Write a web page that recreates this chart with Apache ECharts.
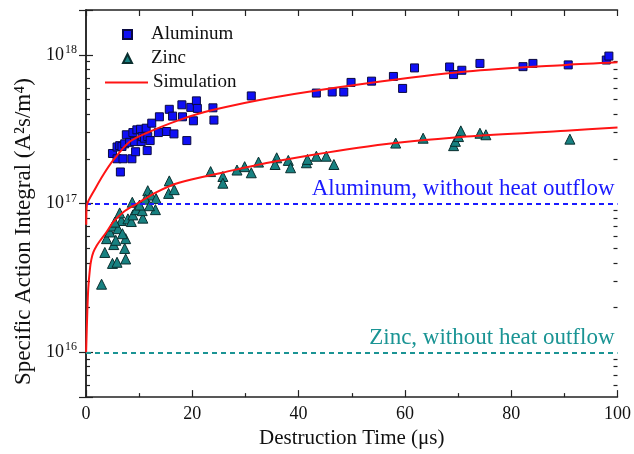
<!DOCTYPE html>
<html>
<head>
<meta charset="UTF-8">
<title>Specific Action Integral</title>
<script src="https://cdn.jsdelivr.net/npm/echarts@6/dist/echarts.min.js"></script>
<style>
  html, body { margin: 0; padding: 0; background: #fff; }
  #container { width: 634px; height: 454px; }
</style>
</head>
<body>
<div id="container"></div>
<script type="text/javascript">
// measured points (time in us, action integral in A^2 s / m^4)
var alTime = [4.98, 5.84, 6.34, 6.77, 7.28, 5.84, 6.96, 6.47, 8.64, 7.59, 8.21, 8.82, 9.14, 9.33, 9.57,
    10.26, 10.39, 10.58, 11.0, 11.32, 11.51, 11.62, 12.07, 12.37, 13.62, 13.81, 15.17, 15.67, 16.29, 16.55,
    18.04, 18.15, 18.97, 19.72, 20.21, 20.77, 20.95, 23.88, 24.07, 31.1, 43.34, 46.32, 48.5, 49.87, 53.73,
    57.84, 59.57, 61.81, 68.41, 69.16, 70.71, 74.12, 82.22, 84.09, 90.73, 97.89, 98.38];
var alValue = [2.17e17, 2.40e17, 2.45e17, 2.42e17, 2.52e17, 2.0e17, 2.0e17, 1.63e17, 2.0e17, 2.9e17, 2.58e17, 3.0e17, 2.61e17, 2.23e17, 3.13e17,
    3.16e17, 2.61e17, 2.82e17, 2.75e17, 3.21e17, 2.27e17, 2.82e17, 2.65e17, 3.47e17, 3.0e17, 3.83e17, 3.05e17, 4.3e17, 3.87e17, 2.94e17,
    4.61e17, 3.83e17, 2.65e17, 4.43e17, 3.6e17, 4.9e17, 4.36e17, 4.4e17, 3.64e17, 5.29e17, 5.53e17, 5.62e17, 5.62e17, 6.52e17, 6.65e17,
    7.15e17, 5.94e17, 8.16e17, 8.28e17, 7.36e17, 7.87e17, 8.75e17, 8.32e17, 8.75e17, 8.55e17, 9.22e17, 9.8e17];

var znTime = [2.93, 3.54, 4.98, 5.84, 7.46, 3.86, 5.22, 5.60, 7.28, 7.46, 4.48, 5.09, 6.66, 6.03, 6.85,
    6.34, 5.41, 7.89, 8.53, 8.82, 8.71, 9.46, 10.69, 10.58, 10.07, 11.62, 12.26, 11.19, 13.19, 13.06,
    11.94, 15.67, 15.54, 16.6, 23.45, 25.75, 25.75, 28.41, 29.85, 31.1, 32.46, 35.88, 35.58, 38.06, 38.49,
    41.47, 41.66, 43.34, 45.2, 46.64, 58.27, 63.43, 69.16, 69.5, 70.09, 70.52, 74.12, 75.24, 91.04];
var znValue = [2.87e16, 4.69e16, 3.96e16, 4.03e16, 4.24e16, 5.81e16, 5.30e16, 5.66e16, 4.99e16, 5.81e16, 6.44e16, 7.06e16, 7.69e16, 6.78e16, 6.27e16,
    8.65e16, 7.5e16, 7.89e16, 7.57e16, 8.39e16, 1.02e17, 9.1e16, 7.98e16, 8.96e16, 9.77e16, 1.22e17, 1.14e17, 1.07e17, 1.08e17, 9.1e16,
    9.67e16, 1.42e17, 1.17e17, 1.24e17, 1.64e17, 1.52e17, 1.37e17, 1.68e17, 1.77e17, 1.61e17, 1.90e17, 2.03e17, 1.83e17, 1.95e17, 1.74e17,
    1.88e17, 1.98e17, 2.08e17, 2.08e17, 1.83e17, 2.55e17, 2.75e17, 2.45e17, 2.62e17, 2.82e17, 3.08e17, 2.97e17, 2.90e17, 2.71e17];

// simulation curves
var simAlTime = [0.05, 0.15, 0.5, 1.4, 3.2, 5.1, 8.2, 11.3, 17.5, 23.8, 35, 53, 71.6, 90.3, 100];
var simAlValue = [7.2e16, 9.7e16, 1.05e17, 1.2e17, 1.55e17, 1.95e17, 2.6e17, 2.97e17, 3.64e17, 4.25e17, 5.15e17, 6.44e17, 7.71e17, 8.55e17, 8.9e17];
var simZnTime = [0.02, 0.25, 0.43, 0.75, 1.0, 1.37, 2.0, 2.6, 3.86, 5.1, 7.0, 9.5, 13.2, 17.5, 25.6, 34.5, 53, 71.6, 90.3, 100];
var simZnValue = [1.0e16, 1.89e16, 2.7e16, 3.67e16, 4.2e16, 4.7e16, 5.2e16, 5.6e16, 6.44e16, 7.5e16, 8.75e16, 9.93e16, 1.19e17, 1.38e17, 1.61e17, 1.89e17, 2.42e17, 2.82e17, 3.09e17, 3.24e17];

// limits without heat outflow
var alLimit = 1e17;
var znLimit = 1e16;

// axis ranges / ticks
var yMin = 5e15, yMax = 2e18;
var yDecades = [15, 16, 17];
var yMinorMult = [2, 3, 4, 5, 6, 7, 8, 9];

function pairs(xs, ys) {
    var out = [];
    for (var i = 0; i < xs.length; i++) out.push([xs[i], ys[i]]);
    return out;
}

var minorExp = [];
for (var d = 0; d < yDecades.length; d++) {
    for (var m = 0; m < yMinorMult.length; m++) {
        var e = yDecades[d] + Math.log10(yMinorMult[m]);
        if (e > Math.log10(yMin) + 0.001 && e < Math.log10(yMax) - 0.001) minorExp.push(e);
    }
}

var serif = 'Liberation Serif';
var axisColor = '#222';
var myChart = echarts.init(document.getElementById('container'));

var option = {
    backgroundColor: '#fff',
    animation: false,
    grid: { left: 86, right: 12, top: 10, bottom: 53 },
    legend: [{
        orient: 'vertical',
        left: 117,
        top: 20,
        itemWidth: 9,
        itemHeight: 9,
        itemGap: 5,
        textStyle: { fontFamily: serif, fontSize: 19, color: '#111', lineHeight: 19, padding: [0, 0, 0, 14] },
        data: ['Aluminum', 'Zinc']
    }, {
        orient: 'vertical',
        left: 100,
        top: 68,
        itemWidth: 43,
        itemHeight: 2,
        textStyle: { fontFamily: serif, fontSize: 19, color: '#111', lineHeight: 19 },
        data: [{ name: 'Simulation', icon: 'rect' }]
    }],
    xAxis: [{
        type: 'value',
        min: 0, max: 100, interval: 20,
        name: 'Destruction Time (\u03bcs)',
        nameLocation: 'middle',
        nameGap: 29,
        nameTextStyle: { fontFamily: serif, fontSize: 21, color: '#111' },
        axisLine: { lineStyle: { color: axisColor, width: 1.5 } },
        axisTick: { inside: true, length: 7, lineStyle: { color: axisColor, width: 1.2 } },
        minorTick: { show: true, splitNumber: 2, length: 4, lineStyle: { color: axisColor, width: 1.2 } },
        axisLabel: { fontFamily: serif, fontSize: 18, color: '#111', margin: 8 },
        splitLine: { show: false }
    }, {
        type: 'value',
        position: 'top',
        min: 0, max: 100, interval: 10,
        axisLine: { lineStyle: { color: axisColor, width: 1.5 } },
        axisTick: { inside: true, length: 6, lineStyle: { color: axisColor, width: 1.2 } },
        axisLabel: { show: false },
        splitLine: { show: false }
    }],
    yAxis: [{
        type: 'log',
        logBase: 10,
        min: yMin, max: yMax,
        name: 'Specific Action Integral (A\u00b2s/m\u2074)',
        nameLocation: 'middle',
        nameGap: 48,
        nameTextStyle: { fontFamily: serif, fontSize: 23, color: '#111', padding: [0, 56, 0, 0] },
        axisLine: { lineStyle: { color: axisColor, width: 1.5 } },
        axisTick: { inside: true, length: 7, lineStyle: { color: axisColor, width: 1.2 } },
        axisLabel: {
            margin: 9,
            formatter: function (v) {
                var ex = Math.round(Math.log10(v));
                if (Math.abs(Math.log10(v) - ex) > 1e-6) return '';
                return '{b|10}{s|' + ex + '}';
            },
            rich: {
                b: { fontFamily: serif, fontSize: 18, color: '#111' },
                s: { fontFamily: serif, fontSize: 12, color: '#111', padding: [0, 0, 10, 1] }
            }
        },
        splitLine: { show: false }
    }, {
        type: 'log',
        logBase: 10,
        position: 'right',
        min: yMin, max: yMax,
        axisLine: { lineStyle: { color: axisColor, width: 1.5 } },
        axisTick: { inside: true, length: 7, lineStyle: { color: axisColor, width: 1.2 } },
        axisLabel: { show: false },
        splitLine: { show: false }
    }, {
        type: 'value',
        position: 'left',
        min: Math.log10(yMin), max: Math.log10(yMax),
        axisLine: { show: false },
        axisTick: { inside: true, length: 4, customValues: minorExp, lineStyle: { color: axisColor, width: 1.2 } },
        axisLabel: { show: false },
        splitLine: { show: false }
    }, {
        type: 'value',
        position: 'right',
        min: Math.log10(yMin), max: Math.log10(yMax),
        axisLine: { show: false },
        axisTick: { inside: true, length: 4, customValues: minorExp, lineStyle: { color: axisColor, width: 1.2 } },
        axisLabel: { show: false },
        splitLine: { show: false }
    }],
    series: [{
        name: 'Aluminum',
        type: 'scatter',
        symbol: 'rect',
        symbolSize: 8,
        itemStyle: { color: '#0f0ff5', borderColor: '#0a0a40', borderWidth: 1, opacity: 1 },
        data: pairs(alTime, alValue),
        z: 3,
        markLine: {
            silent: true,
            symbol: 'none',
            lineStyle: { color: '#1a1aff', type: [5, 4], width: 2 },
            label: {
                position: 'insideEndTop',
                distance: [3, 3],
                formatter: 'Aluminum, without heat outflow',
                fontFamily: serif, fontSize: 23, color: '#1a1aff'
            },
            data: [{ yAxis: alLimit }]
        }
    }, {
        name: 'Zinc',
        type: 'scatter',
        symbol: 'triangle',
        symbolSize: 10,
        itemStyle: { color: '#178181', borderColor: '#0a2e2e', borderWidth: 1, opacity: 1 },
        data: pairs(znTime, znValue),
        z: 3,
        markLine: {
            silent: true,
            symbol: 'none',
            lineStyle: { color: '#1a9494', type: [5, 4], width: 2 },
            label: {
                position: 'insideEndTop',
                distance: [3, 3],
                formatter: 'Zinc, without heat outflow',
                fontFamily: serif, fontSize: 23, color: '#1a9494'
            },
            data: [{ yAxis: znLimit }]
        }
    }, {
        name: 'Simulation',
        type: 'line',
        smooth: 0.3,
        symbol: 'none',
        lineStyle: { color: '#ff1414', width: 2 },
        itemStyle: { color: '#ff1414' },
        data: pairs(simAlTime, simAlValue),
        z: 5
    }, {
        name: 'Simulation',
        type: 'line',
        smooth: 0.3,
        symbol: 'none',
        lineStyle: { color: '#ff1414', width: 2 },
        itemStyle: { color: '#ff1414' },
        data: pairs(simZnTime, simZnValue),
        z: 5
    }]
};
myChart.setOption(option);
</script>
</body>
</html>
